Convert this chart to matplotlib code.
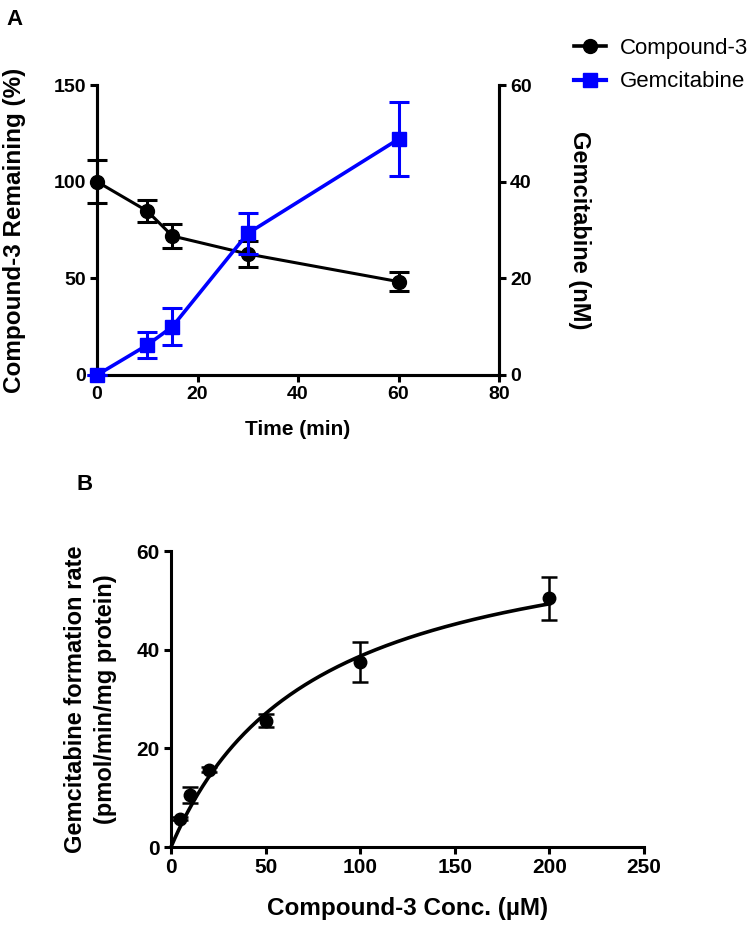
import numpy as np
import matplotlib
matplotlib.use("Agg")
import matplotlib.pyplot as plt
from matplotlib.lines import Line2D

plt.rcParams['font.family'] = ['Liberation Sans', 'DejaVu Sans']

# panel A data
time_min = [0, 10, 15, 30, 60]
cmpd3_pct = [100, 84.8, 71.9, 62.6, 48.3]
cmpd3_err = [11, 5.5, 6.0, 6.9, 4.8]
gem_time = [0, 10, 15, 30, 60]
gem_nM = [0, 6.2, 10.0, 29.3, 48.8]
gem_err = [0, 2.6, 3.8, 4.3, 7.7]

# panel B data
conc_uM = [5, 10, 20, 50, 100, 200]
rate = [5.75, 10.5, 15.7, 25.6, 37.5, 50.4]
rate_err = [0.3, 1.6, 0.5, 1.3, 4.1, 4.4]
# Michaelis-Menten fit
vmax = 67.9
km = 75.5

blue = '#0000ff'
lw = 2.2

fig = plt.figure(figsize=(7.52, 9.25), dpi=100)

# ---------- panel A ----------
ax = fig.add_axes([0.129, 0.5946, 0.5346, 0.3135])
ax2 = ax.twinx()

ax.errorbar(time_min, cmpd3_pct, yerr=cmpd3_err, color='black', lw=lw,
            marker='o', ms=10, capsize=7, capthick=lw, elinewidth=lw,
            clip_on=False, zorder=3)
ax2.errorbar(gem_time, gem_nM, yerr=gem_err, color=blue, lw=2.6,
             marker='s', ms=10, capsize=7, capthick=lw, elinewidth=lw,
             clip_on=False, zorder=4)

ax.set_xlim(0, 80)
ax.set_ylim(0, 150)
ax2.set_ylim(0, 60)
ax.set_xticks([0, 20, 40, 60, 80])
ax.set_yticks([0, 50, 100, 150])
ax2.set_yticks([0, 20, 40, 60])

for a in (ax, ax2):
    a.spines['top'].set_visible(False)
    for s in ('left', 'right', 'bottom'):
        a.spines[s].set_linewidth(lw)
    a.tick_params(width=lw, length=5, labelsize=14, pad=3)
    for t in a.get_xticklabels() + a.get_yticklabels():
        t.set_fontweight('bold')
ax2.set_zorder(ax.get_zorder() + 1)
ax2.patch.set_visible(False)

ax.set_xlabel('Time (min)', fontsize=15, fontweight='bold', labelpad=12)
ax.set_ylabel('Compound-3 Remaining (%)', fontsize=17.5, fontweight='bold', labelpad=20)
ax2.set_ylabel('Gemcitabine (nM)', fontsize=17, fontweight='bold',
               rotation=270, labelpad=43)

handles = [Line2D([], [], color='black', lw=2.6, marker='o', ms=10),
           Line2D([], [], color=blue, lw=3, marker='s', ms=10)]
fig.legend(handles, ['Compound-3', 'Gemcitabine'], loc='center left',
           bbox_to_anchor=(0.748, 0.9295), frameon=False, fontsize=16,
           handlelength=1.45, labelspacing=0.55, handletextpad=0.65,
           borderpad=0)

fig.text(0.008, 0.99, 'A', fontsize=16, fontweight='bold', va='top')

# ---------- panel B ----------
bx = fig.add_axes([0.2274, 0.0843, 0.629, 0.32])
s = np.linspace(0, 200, 300)
bx.plot(s, vmax * s / (km + s), color='black', lw=2.6, clip_on=False)
bx.errorbar(conc_uM, rate, yerr=rate_err, color='black', ls='none',
            marker='o', ms=9, capsize=6, capthick=1.8, elinewidth=1.8,
            clip_on=False, zorder=3)
bx.set_xlim(0, 250)
bx.set_ylim(0, 60)
bx.set_xticks([0, 50, 100, 150, 200, 250])
bx.set_yticks([0, 20, 40, 60])
bx.spines['top'].set_visible(False)
bx.spines['right'].set_visible(False)
for sp in ('left', 'bottom'):
    bx.spines[sp].set_linewidth(lw)
bx.tick_params(width=lw, length=5, labelsize=15, pad=3)
for t in bx.get_xticklabels() + bx.get_yticklabels():
    t.set_fontweight('bold')
bx.set_xlabel('Compound-3 Conc. (\u00b5M)', fontsize=17.5, fontweight='bold', labelpad=14)
bx.set_ylabel('Gemcitabine formation rate\n(pmol/min/mg protein)', fontsize=17,
              fontweight='bold', labelpad=14, linespacing=1.4)

fig.text(0.102, 0.488, 'B', fontsize=16, fontweight='bold', va='top')

fig.savefig('out.png', dpi=100)
